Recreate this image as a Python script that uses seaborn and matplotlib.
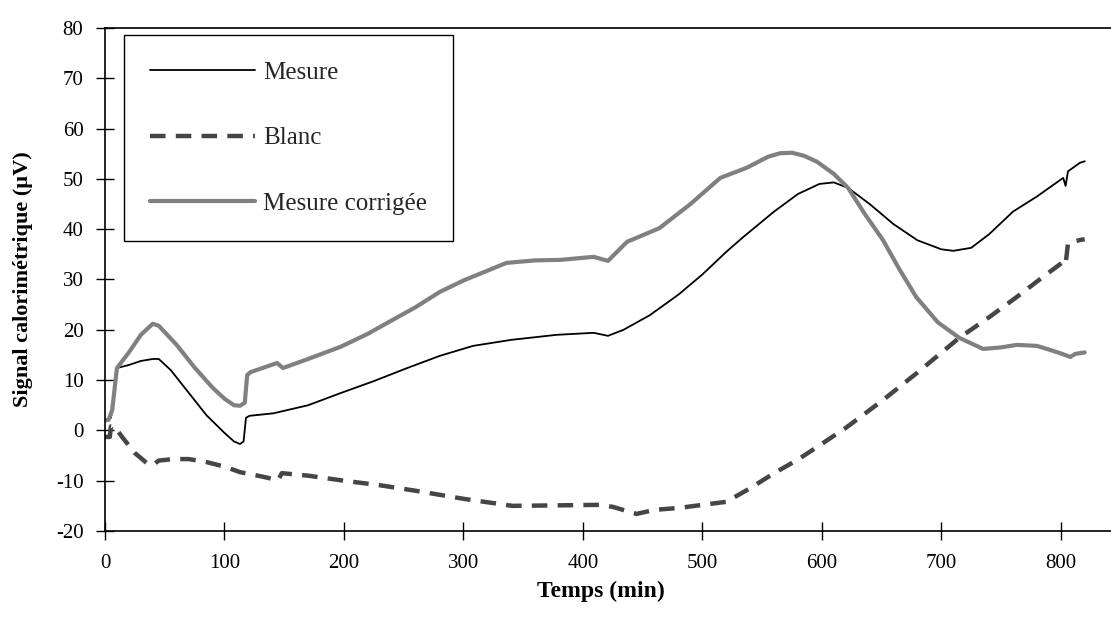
import matplotlib
matplotlib.use("Agg")
import matplotlib.pyplot as plt
import seaborn as sns

# Mesure (signal brut)
t_mesure = [0, 5, 10, 20, 30, 40, 45, 55, 70, 85, 100, 108, 113, 116, 118, 121,
            141, 170, 197, 225, 253, 280, 308, 340, 378, 409, 421, 434, 456, 480,
            500, 520, 534, 560, 580, 598, 610, 622, 640, 660, 680, 700, 710, 725,
            740, 760, 780, 802, 804, 806, 816, 820]
y_mesure = [2.0, 2.5, 12.4, 13.0, 13.8, 14.2, 14.2, 12.0, 7.5, 3.0, -0.5, -2.2, -2.7, -2.2, 2.5, 2.9,
            3.4, 5.0, 7.4, 9.8, 12.4, 14.8, 16.8, 18.0, 19.0, 19.4, 18.8, 20.0, 22.9, 27.0,
            31.0, 35.5, 38.4, 43.5, 47.0, 49.0, 49.3, 48.2, 45.0, 41.0, 37.8, 36.0, 35.7, 36.3,
            39.0, 43.5, 46.5, 50.2, 48.6, 51.5, 53.2, 53.5]

# Blanc
t_blanc = [0, 4, 5, 8, 15, 25, 35, 40, 45, 57, 70, 85, 100, 113, 130, 145, 148,
           170, 200, 230, 260, 300, 341, 380, 414, 425, 445, 460, 481, 500, 520,
           540, 560, 580, 596, 620, 651, 680, 715, 740, 763, 785, 802, 804, 806,
           810, 817, 820]
y_blanc = [-1.3, -1.3, 0.8, 0.7, -1.5, -4.5, -6.5, -6.9, -6.0, -5.7, -5.7, -6.3, -7.2, -8.3, -9.1, -9.9, -8.5,
           -9.0, -10.0, -10.9, -12.0, -13.6, -15.0, -14.9, -14.8, -15.2, -16.6, -15.8, -15.4, -14.8, -14.2,
           -11.5, -8.5, -5.8, -3.3, 0.5, 6.0, 11.5, 18.4, 22.5, 26.5, 30.5, 33.5, 33.0, 37.2,
           37.5, 37.9, 38.0]

# Mesure corrigée
t_corr = [0, 3, 6, 10, 20, 30, 40, 45, 60, 75, 90, 100, 108, 113, 117, 119, 122,
          144, 149, 170, 197, 220, 238, 260, 280, 300, 336, 360, 381, 409, 421, 437,
          464, 490, 515, 537, 555, 565, 575, 585, 596, 610, 622, 636, 651, 665, 679, 697,
          715, 735, 750, 763, 780, 791, 800, 808, 812, 817, 820]
y_corr = [2.0, 2.1, 4.0, 12.4, 15.5, 19.0, 21.2, 20.8, 17.0, 12.5, 8.5, 6.3, 5.0, 4.9, 5.5, 11.0, 11.6,
          13.4, 12.4, 14.2, 16.6, 19.2, 21.6, 24.5, 27.5, 29.8, 33.3, 33.8, 33.9, 34.5, 33.7, 37.5,
          40.2, 45.0, 50.2, 52.2, 54.4, 55.1, 55.2, 54.6, 53.4, 51.0, 48.2, 43.0, 37.9, 32.0, 26.5, 21.5,
          18.4, 16.2, 16.5, 17.0, 16.8, 16.0, 15.3, 14.6, 15.2, 15.4, 15.5]

x_ticks = [0, 100, 200, 300, 400, 500, 600, 700, 800]
y_ticks = [-20, -10, 0, 10, 20, 30, 40, 50, 60, 70, 80]

sns.set_theme(style="white")
plt.rcParams['font.family'] = ['Liberation Serif', 'DejaVu Serif']
plt.rcParams['axes.unicode_minus'] = False

fig = plt.figure(figsize=(11.11, 6.22), dpi=100)
ax = fig.add_axes([0.0945, 0.1463, 0.9055, 0.8087])

sns.lineplot(x=t_mesure, y=y_mesure, ax=ax, sort=False, estimator=None,
             color='black', lw=1.3, label='Mesure')
sns.lineplot(x=t_blanc, y=y_blanc, ax=ax, sort=False, estimator=None,
             color='#454545', lw=3.2, linestyle=(0, (3.5, 2.3)), label='Blanc')
sns.lineplot(x=t_corr, y=y_corr, ax=ax, sort=False, estimator=None,
             color='#808080', lw=3.0, label='Mesure corrigée')

ax.set_xlim(0, 842)
ax.set_ylim(-20, 80)
ax.set_xticks(x_ticks)
ax.set_yticks(y_ticks)

for side in ['left', 'bottom', 'top']:
    ax.spines[side].set_visible(True)
    ax.spines[side].set_color('black')
    ax.spines[side].set_linewidth(1.2)
ax.spines['right'].set_visible(False)

ax.tick_params(axis='both', direction='inout', length=13, width=1, color='black',
               labelsize=15, labelcolor='black')
ax.tick_params(axis='y', pad=9, left=True)
ax.tick_params(axis='x', pad=10, bottom=True)

ax.set_xlabel('Temps (min)', fontsize=17, fontweight='bold', color='black')
ax.set_ylabel('Signal calorimétrique (µV)', fontsize=16, fontweight='bold', color='black')
ax.xaxis.set_label_coords(0.493, -0.1)
ax.yaxis.set_label_coords(-0.0716, 0.5)

leg = ax.legend(loc='upper left', bbox_to_anchor=(0.019, 0.986), borderaxespad=0,
                fontsize=18, handlelength=4.2, handletextpad=0.3, labelspacing=1.72,
                borderpad=1.05, frameon=True, fancybox=False, shadow=False)
leg.get_frame().set_edgecolor('black')
leg.get_frame().set_linewidth(1.0)
leg.get_frame().set_alpha(1)

fig.savefig('out.png', dpi=100)
